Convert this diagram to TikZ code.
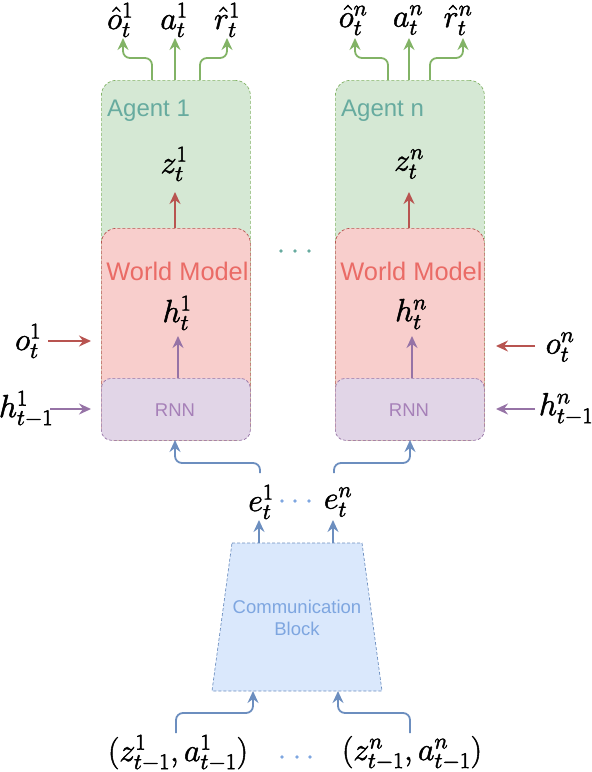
\RequirePackage{fix-cm}
\documentclass[tikz,border=0pt]{standalone}
\usepackage{amsmath}
\usepackage{graphicx}
\usepackage{fontspec}
\newfontfamily\lsans{Liberation Sans}
\usetikzlibrary{arrows.meta}
\definecolor{gfill}{HTML}{D5E8D4}\definecolor{gline}{HTML}{82B366}
\definecolor{rfill}{HTML}{F8CECC}\definecolor{rline}{HTML}{B85450}
\definecolor{pfill}{HTML}{E1D5E7}\definecolor{pline}{HTML}{9673A6}
\definecolor{bfill}{HTML}{DAE8FC}\definecolor{bline}{HTML}{6C8EBF}
\definecolor{tealtxt}{HTML}{67AB9F}\definecolor{redtxt}{HTML}{EA6B66}
\definecolor{purtxt}{HTML}{A680B8}\definecolor{bluetxt}{HTML}{7EA6E0}
\newcommand\heavy[1]{\special{pdf:literal direct 2 Tr 0.5 w}#1\special{pdf:literal direct 0 Tr}}
\tikzset{
  box/.style={draw, dash pattern=on 3pt off 2pt, line width=0.7pt, inner sep=0pt, anchor=north west, minimum width=149},
  mth/.style={inner sep=0pt, font=\fontsize{32}{36}\selectfont},
  arr/.style={line width=1.8pt, -{Stealth[length=12pt,width=11pt,inset=4pt]}, rounded corners=7pt},
  dot/.style={circle, fill, inner sep=0pt, minimum size=3.6pt},
}
\begin{document}
\begin{tikzpicture}[x=1pt,y=-1pt]
\useasboundingbox (0,0) rectangle (592,772);
% ---------- boxes ----------
\foreach \i/\x in {1/101,n/335}{
  \node[box, draw=gline, fill=gfill, rounded corners=15pt, minimum height=360] (ag\i) at (\x,80) {};
  \node[box, draw=rline, fill=rfill, rounded corners=15pt, minimum height=212] (wm\i) at (\x,228) {};
  \node[box, draw=pline, fill=pfill, rounded corners=10pt, minimum height=62] (rnn\i) at (\x,378) {};
}
\node[anchor=west, text=tealtxt, font=\lsans\fontsize{24}{28}\selectfont, inner sep=0pt] (agt1) at (107,111) {Agent 1};
\node[anchor=west, text=tealtxt, font=\lsans\fontsize{24}{28}\selectfont, inner sep=0pt] (agtn) at (341,111) {Agent n};
\node[text=redtxt, font=\lsans\fontsize{25.4}{30}\selectfont, inner sep=0pt] (wmt1) at (177.5,271) {World Model};
\node[text=redtxt, font=\lsans\fontsize{25.4}{30}\selectfont, inner sep=0pt] (wmtn) at (411.5,271) {World Model};
\node[text=purtxt, font=\lsans\fontsize{18.5}{22}\selectfont, inner sep=0pt] (rnt1) at (175,410) {RNN};
\node[text=purtxt, font=\lsans\fontsize{18.5}{22}\selectfont, inner sep=0pt] (rntn) at (409,410) {RNN};
% dots between agents
\node[dot, fill=tealtxt] (d1) at (281,251) {};
\node[dot, fill=tealtxt] (d2) at (295,251) {};
\node[dot, fill=tealtxt] (d3) at (309,251) {};
% ---------- latent labels ----------
\node[mth] (z1) at (174,164) {\heavy{$z_t^1$}};
\node[mth] (zn) at (409,164) {\heavy{$z_t^n$}};
\node[mth] (h1) at (177,313) {\heavy{$h_t^1$}};
\node[mth] (hn) at (411,314) {\heavy{$h_t^n$}};
\coordinate (z1s) at (175,228); \coordinate (z1e) at (175,192);
\coordinate (zns) at (409,228); \coordinate (zne) at (409,192);
\draw[arr, rline] (z1s) -- (z1e);
\draw[arr, rline] (zns) -- (zne);
\coordinate (h1s) at (178,378); \coordinate (h1e) at (178,336);
\coordinate (hns) at (412,378); \coordinate (hne) at (412,336);
\draw[arr, pline] (h1s) -- (h1e);
\draw[arr, pline] (hns) -- (hne);
% ---------- outputs ----------
\node[mth] (oh1) at (120,20) {\heavy{$\hat{o}_t^1$}};
\node[mth] (a1) at (174,20) {\heavy{$a_t^1$}};
\node[mth] (rh1) at (227,20) {\heavy{$\hat{r}_t^1$}};
\node[mth] (ohn) at (353,20) {\heavy{$\hat{o}_t^n$}};
\node[mth] (an) at (408,20) {\heavy{$a_t^n$}};
\node[mth] (rhn) at (458,20) {\heavy{$\hat{r}_t^n$}};
\draw[arr, gline] (152,80) -- (152,58) -- (123,58) -- (123,38);
\draw[arr, gline] (175,80) -- (175,38);
\draw[arr, gline] (200,80) -- (200,58) -- (227,58) -- (227,38);
\draw[arr, gline] (388,80) -- (388,58) -- (355,58) -- (355,38);
\draw[arr, gline] (409,80) -- (409,38);
\draw[arr, gline] (430,80) -- (430,58) -- (463,58) -- (463,38);
% ---------- side inputs ----------
\node[mth] (o1) at (28,341) {\heavy{$o_t^1$}};
\node[mth] (hp1) at (26,409) {\heavy{$h_{t-1}^1$}};
\node[mth] (on) at (560,347) {\heavy{$o_t^n$}};
\node[mth] (hpn) at (566,409) {\heavy{$h_{t-1}^n$}};
\draw[arr, rline] (48,341) -- (91,341);
\draw[arr, pline] (50,409) -- (91,409);
\draw[arr, rline] (535,346) -- (496,346);
\draw[arr, pline] (535,409) -- (496,409);
% ---------- messages ----------
\node[mth] (e1) at (261,502) {\heavy{$e_t^1$}};
\node[mth] (en) at (338,502) {\heavy{$e_t^n$}};
\node[dot, fill=bluetxt] (m1) at (282,501) {};
\node[dot, fill=bluetxt] (m2) at (295,501) {};
\node[dot, fill=bluetxt] (m3) at (309,501) {};
\draw[arr, bline] (260,473) -- (260,463) -- (175,463) -- (175,440);
\draw[arr, bline] (334,473) -- (334,463) -- (410,463) -- (410,440);
% ---------- communication block ----------
\coordinate (tl) at (232,543); \coordinate (tr) at (362,543);
\coordinate (br) at (382,691); \coordinate (bl) at (212,691);
\draw[bline, fill=bfill, dash pattern=on 3pt off 2pt, line width=0.7pt] (tl) -- (tr) -- (br) -- (bl) -- cycle;
\node[text=bluetxt, font=\lsans\fontsize{18.5}{22}\selectfont, align=center, inner sep=0pt] (cb) at (297,618) {Communication\\Block};
\draw[arr, bline] (259,543) -- (259,520);
\draw[arr, bline] (333,543) -- (333,520);
% ---------- bottom inputs ----------
\node[mth] (in1) at (178,753) {\heavy{$(z_{t-1}^1, a_{t-1}^1)$}};
\node[mth] (inn) at (412,753) {\heavy{$(z_{t-1}^n, a_{t-1}^n)$}};
\node[dot, fill=bluetxt] (b1) at (282,757) {};
\node[dot, fill=bluetxt] (b2) at (297,757) {};
\node[dot, fill=bluetxt] (b3) at (310,757) {};
\draw[arr, bline] (176,733) -- (176,713) -- (253,713) -- (253,691);
\draw[arr, bline] (410,733) -- (410,713) -- (338,713) -- (338,691);
\end{tikzpicture}
\end{document}
